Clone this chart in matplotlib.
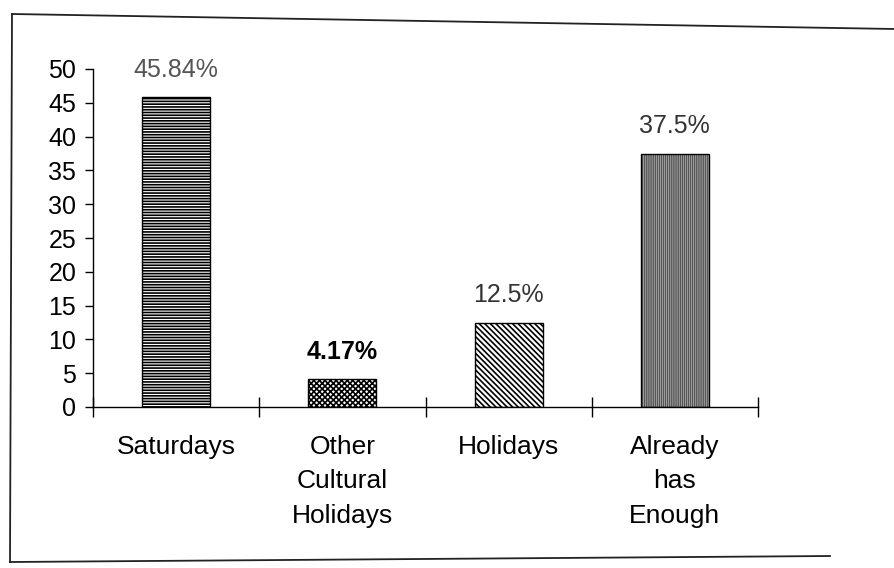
import matplotlib
matplotlib.use("Agg")
import matplotlib.pyplot as plt
from matplotlib.lines import Line2D

categories = ["Saturdays", "Other\nCultural\nHolidays", "Holidays", "Already\nhas\nEnough"]
values = [45.84, 4.17, 12.5, 37.5]
value_labels = ["45.84%", "4.17%", "12.5%", "37.5%"]
yticks = [0, 5, 10, 15, 20, 25, 30, 35, 40, 45, 50]

hatches = ["------", "xxxxxx", "\\\\\\\\\\\\", "||||||||"]
hatch_colors = ["black", "black", "black", "#555555"]
label_colors = ["#555555", "black", "#333333", "#333333"]
label_weights = ["normal", "bold", "normal", "normal"]

plt.rcParams["font.family"] = ["Liberation Sans", "DejaVu Sans"]
plt.rcParams["hatch.linewidth"] = 1.2

W, H = 895, 568
fig = plt.figure(figsize=(W / 100, H / 100), dpi=100)
fig.patch.set_facecolor("white")

ax = fig.add_axes([93 / W, 1 - 407 / H, (758 - 93) / W, (407 - 69) / H])
x = list(range(len(categories)))

for xi, v, h, hc in zip(x, values, hatches, hatch_colors):
    ax.bar(xi, v, width=0.41, color="white", edgecolor=hc, hatch=h, linewidth=0)
    ax.bar(xi, v, width=0.41, color="none", edgecolor="black", linewidth=1.0)

for xi, v, t, c, w in zip(x, values, value_labels, label_colors, label_weights):
    ax.text(xi, v + 4.0, t, ha="center", va="center", fontsize=18,
            color=c, fontweight=w)

ax.set_xlim(-0.5, 3.5)
ax.set_ylim(0, 50)
ax.set_yticks(yticks)
ax.set_yticklabels([str(t) for t in yticks], fontsize=18)
ax.tick_params(axis="y", direction="out", length=6, width=1, pad=6)

# category boundaries carry the x ticks; names sit under each bar
ax.set_xticks([-0.5, 0.5, 1.5, 2.5, 3.5])
ax.set_xticklabels([])
ax.tick_params(axis="x", direction="inout", length=14, width=1)
for xi, name in zip(x, categories):
    ax.text(xi, -4.1, name, ha="center", va="top", fontsize=19,
            linespacing=1.55, color="black")

for s in ["top", "right"]:
    ax.spines[s].set_visible(False)
ax.spines["left"].set_linewidth(1.0)
ax.spines["bottom"].set_linewidth(1.0)

# outer frame around the chart area
def px(xp, yp):
    return xp / W, 1 - yp / H

frame = [((12, 14), (895, 29)), ((12, 14), (10, 562)), ((10, 562), (830, 556))]
for (a, b) in frame:
    (x0, y0), (x1, y1) = px(*a), px(*b)
    fig.add_artist(Line2D([x0, x1], [y0, y1], transform=fig.transFigure,
                          color="#222222", linewidth=1.3))

fig.savefig("out.png", dpi=100)
